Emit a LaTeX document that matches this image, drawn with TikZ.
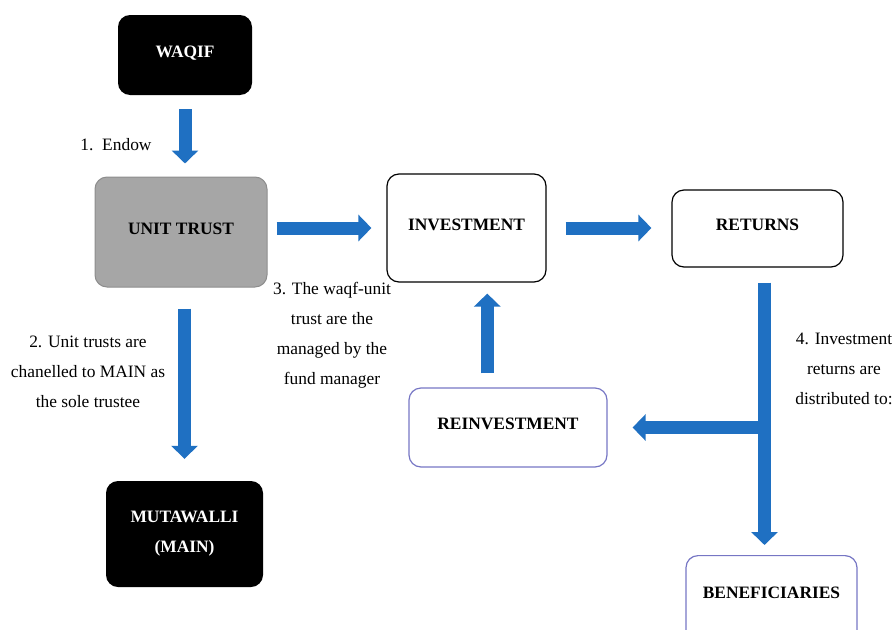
\documentclass[tikz,border=0pt]{standalone}
\usepackage{fontspec}
\setmainfont{Liberation Serif}
\usepackage{tikz}
\usetikzlibrary{arrows.meta,calc}
\definecolor{arrowblue}{RGB}{31,112,194}
\definecolor{trustgrey}{RGB}{166,166,166}
\definecolor{boxviolet}{RGB}{118,118,196}
\tikzstyle{box} = [rectangle, rounded corners=12pt, align=center, font=\fontsize{17.4pt}{30pt}\selectfont\bfseries, text height=12pt, text depth=8pt]
\tikzstyle{darkbox} = [box, fill=black, text=white]
\tikzstyle{greybox} = [box, fill=trustgrey, draw=trustgrey!85!black, line width=1pt]
\tikzstyle{plainbox} = [box, draw=black, line width=1.2pt]
\tikzstyle{bluebox} = [box, draw=boxviolet, line width=1.2pt]
\tikzstyle{note} = [inner sep=0pt, align=center, font=\fontsize{17.4pt}{30pt}\selectfont]
\tikzstyle{blockarrow} = [draw=arrowblue, line width=13pt, -{Triangle[width=26pt,length=13pt]}, arrowblue]

\begin{document}
\begin{tikzpicture}[x=1pt, y=-1pt]
\useasboundingbox (0,0) rectangle (896,629);
\node(waqif)[darkbox, minimum width=134pt, minimum height=80pt] at (185,55) {WAQIF};
\node(unit)[greybox, minimum width=172pt, minimum height=110pt] at (181,232) {UNIT TRUST};
\node(mutawalli)[darkbox, minimum width=157pt, minimum height=106pt, text height=, text depth=] at (184.5,534) {MUTAWALLI\\(MAIN)};
\node(invest)[plainbox, minimum width=159pt, minimum height=108pt] at (466.5,228) {INVESTMENT};
\node(returns)[plainbox, minimum width=171pt, minimum height=77pt] at (757.5,228.5) {RETURNS};
\node(reinvest)[bluebox, minimum width=198pt, minimum height=79pt] at (508,427.5) {REINVESTMENT};
\node(benef)[bluebox, minimum width=171pt, minimum height=90pt, text depth=16.4pt, anchor=north] at (771.5,555) {BENEFICIARIES};

\node(endow)[note] at (116,145) {1.\ \ Endow};
\node(chanel)[note] at (88,372) {2. Unit trusts are\\chanelled to MAIN as\\the sole trustee};
\node(managed)[note] at (332,335) {3. The waqf-unit\\trust are the\\managed by the\\fund manager};
\node(distrib)[note] at (844,369) {4. Investment\\returns are\\distributed to:};

\coordinate(up) at ($(invest.south)!.5!(reinvest.north)$);
\coordinate(split) at ($(returns.south)!.5!(benef.north)$);
\coordinate(fork) at (split |- reinvest.east);

\draw[blockarrow, shorten <=14pt, shorten >=13pt] (waqif.south) -- (waqif.south |- unit.north);
\draw[blockarrow, shorten <=21pt, shorten >=22pt] (mutawalli.north |- unit.south) -- (mutawalli.north);
\draw[blockarrow, shorten <=9pt, shorten >=15pt] (unit.east |- invest.west) -- (invest.west);
\draw[blockarrow, shorten <=19pt, shorten >=20pt] (invest.east) -- (invest.east -| returns.west);
\draw[blockarrow, shorten <=14pt, shorten >=11pt] (up |- reinvest.north) -- (up |- invest.south);
\draw[blockarrow, shorten <=15pt, shorten >=10pt] (returns.south -| fork) -- (benef.north -| fork);
\draw[blockarrow, shorten >=25pt] (fork) -- (reinvest.east);
\end{tikzpicture}
\end{document}
